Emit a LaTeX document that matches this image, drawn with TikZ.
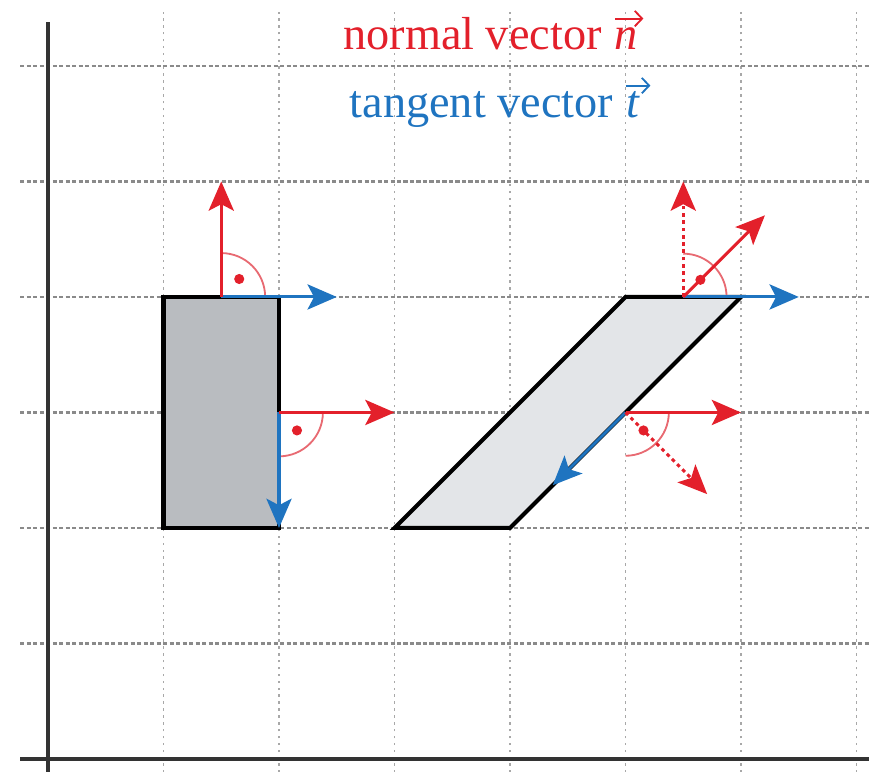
\documentclass[tikz,border=0pt]{standalone}
\usepackage{fontspec}
\setmainfont{Liberation Serif}
\usetikzlibrary{arrows.meta,calc}
\definecolor{nred}{HTML}{E3202B}
\definecolor{tblue}{HTML}{1F74C0}
\definecolor{arcred}{HTML}{E86A72}
\definecolor{gridgray}{HTML}{8A8A8A}
\definecolor{vgridgray}{HTML}{A8A8A8}
\definecolor{rectgray}{HTML}{B9BCC0}
\definecolor{parafill}{HTML}{E3E5E8}
\tikzset{
  hgrid/.style={gridgray, line width=0.6pt, dash pattern=on 1pt off 0.6pt},
  vgrid/.style={vgridgray, line width=0.45pt, dash pattern=on 0.6pt off 1.1pt},
  axisline/.style={black!80, line width=0.8pt},
  outline/.style={black, line width=1pt, line join=miter},
  tip/.style={-{Stealth[length=7.2pt,width=6.2pt,inset=1.6pt]}},
  normalvec/.style={tip, nred, line width=0.75pt},
  normaldot/.style={tip, nred, line width=0.75pt, dash pattern=on 0.9pt off 0.9pt},
  tangentvec/.style={tip, tblue, line width=0.75pt},
  rightangle/.style={arcred, line width=0.45pt},
  angdot/.style={fill=nred, draw=none, circle, inner sep=0pt, minimum size=2.5pt},
  lbl/.style={inner sep=0pt, font=\fontsize{11.4}{13}\selectfont},
  lblit/.style={inner sep=0pt, font=\fontsize{11.4}{13}\selectfont\itshape},
  vecarrow/.style={line width=0.45pt, -{Straight Barb[length=1.8pt,width=3.8pt]}},
}
\begin{document}
\begin{tikzpicture}[x=1cm,y=1cm]
\useasboundingbox (-0.4156,-0.1126) rectangle (7.108,6.571);
% grid
\foreach \x in {1,...,7} \draw[vgrid] (\x,-0.12) -- (\x,6.47);
\foreach \y in {1,...,6} \draw[hgrid] (-0.24,\y) -- (7.11,\y);
% axes
\coordinate (xa0) at (-0.24,0); \coordinate (xa1) at (7.11,0);
\coordinate (ya0) at (0,-0.12); \coordinate (ya1) at (0,6.38);
\draw[axisline] (xa0) -- (xa1);
\draw[axisline] (ya0) -- (ya1);
% labels
\node[lblit, anchor=base west, text=nred] (nlet) at (4.90,6.14) {n};
\node[lbl, anchor=base east, text=nred] (lbln) at (4.80,6.14) {normal vector};
\draw[vecarrow, nred] ($(nlet.base west)+(0.01,0.27)$) -- ($(nlet.base east)+(0.04,0.27)$);
\node[lblit, anchor=base west, text=tblue] (tlet) at (5.0,5.55) {t};
\node[lbl, anchor=base east, text=tblue] (lblt) at (4.90,5.55) {tangent vector};
\draw[vecarrow, tblue] ($(tlet.base west)+(0.0,0.28)$) -- ($(tlet.base east)+(0.09,0.28)$);
% rectangle
\coordinate (r1) at (1,2); \coordinate (r2) at (2,2); \coordinate (r3) at (2,4); \coordinate (r4) at (1,4);
\draw[outline, fill=rectgray] (r1) -- (r2) -- (r3) -- (r4) -- cycle;
% parallelogram
\coordinate (p1) at (3,2); \coordinate (p2) at (4,2); \coordinate (p3) at (6,4); \coordinate (p4) at (5,4);
\draw[outline, fill=parafill] (p1) -- (p2) -- (p3) -- (p4) -- cycle;
% --- rectangle top
\coordinate (A) at (1.5,4);
\coordinate (An) at (1.5,5);
\coordinate (At) at (2.5,4);
\draw[rightangle] (1.88,4) arc[start angle=0,end angle=90,radius=0.38];
\node[angdot] (Ad) at ($(A)+(45:0.22)$) {};
\draw[tangentvec] (A) -- (At);
\draw[normalvec] (A) -- (An);
% --- rectangle side
\coordinate (B) at (2,3);
\coordinate (Bn) at (3,3);
\coordinate (Bt) at (2,2);
\draw[rightangle] (2,2.62) arc[start angle=-90,end angle=0,radius=0.38];
\node[angdot] (Bd) at ($(B)+(-45:0.22)$) {};
\draw[tangentvec] (B) -- (Bt);
\draw[normalvec] (B) -- (Bn);
% --- parallelogram top
\coordinate (C) at (5.5,4);
\coordinate (Cn) at (6.207,4.707);
\coordinate (Cu) at (5.5,5);
\coordinate (Ct) at (6.5,4);
\draw[rightangle] (5.875,4) arc[start angle=0,end angle=90,radius=0.375];
\draw[tangentvec] (C) -- (Ct);
\draw[normaldot] (C) -- (Cu);
\draw[normalvec] (C) -- (Cn);
\node[angdot] (Cd) at ($(C)+(45:0.21)$) {};
% --- parallelogram slanted side
\coordinate (D) at (5,3);
\coordinate (Dr) at (6,3);
\coordinate (Dn) at (5.707,2.293);
\coordinate (Dt) at (4.37,2.37);
\draw[rightangle] (5,2.625) arc[start angle=-90,end angle=0,radius=0.375];
\draw[tangentvec] (D) -- (Dt);
\draw[normaldot] (D) -- (Dn);
\draw[normalvec] (D) -- (Dr);
\node[angdot] (Dd) at ($(D)+(-45:0.22)$) {};
\end{tikzpicture}
\end{document}
